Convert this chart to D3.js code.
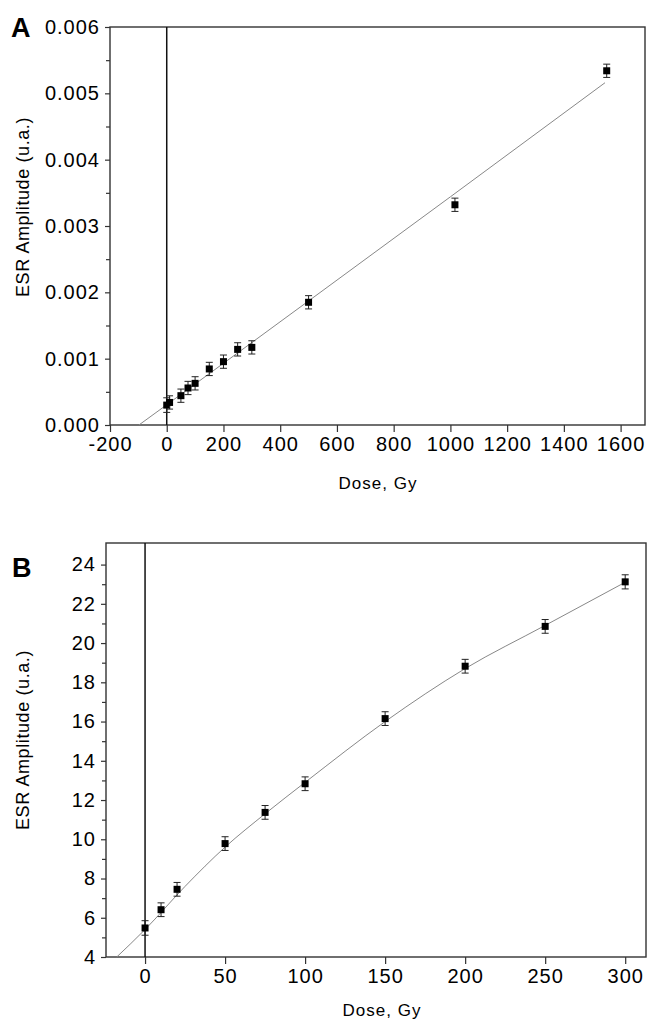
<!DOCTYPE html>
<html>
<head>
<meta charset="utf-8">
<script src="https://cdn.jsdelivr.net/npm/d3@7"></script>
<style>
  body { margin: 0; background: #fff; }
  svg text { font-family: "Liberation Sans", Arial, sans-serif; fill: #000; }
</style>
</head>
<body>
<svg id="chart" width="649" height="1021"></svg>
<script>
// ===== DATA =====
// Panel A
const doseA   = [0, 10, 50, 75, 100, 150, 200, 250, 300, 500, 1016, 1551];
const ampA    = [0.00030, 0.00034, 0.000442, 0.000558, 0.000628, 0.000845, 0.000955, 0.00114, 0.00117, 0.00185, 0.00332, 0.00534];
const errA    = [0.00011, 0.0001, 0.0001, 0.0001, 0.0001, 0.0001, 0.0001, 0.0001, 0.0001, 0.0001, 0.0001, 0.0001];
const fitDoseA = [-98, 0, 500, 1000, 1545];
const fitAmpA  = [0, 0.000305, 0.00187, 0.00344, 0.00516];
const xTicksA = [-200, 0, 200, 400, 600, 800, 1000, 1200, 1400, 1600];
const yTicksA = [0, 0.001, 0.002, 0.003, 0.004, 0.005, 0.006];

// Panel B
const doseB   = [0, 10, 20, 50, 75, 100, 150, 200, 250, 300];
const ampB    = [5.48, 6.41, 7.45, 9.78, 11.37, 12.83, 16.15, 18.82, 20.85, 23.12];
const errB    = [0.37, 0.35, 0.35, 0.35, 0.35, 0.35, 0.35, 0.35, 0.35, 0.36];
const fitDoseB = [-17.7, 0, 25, 50, 75, 100, 150, 200, 250, 300];
const fitAmpB  = [4.0, 5.4, 7.6, 9.6, 11.3, 12.9, 16.0, 18.7, 20.9, 23.1];
const xTicksB = [0, 50, 100, 150, 200, 250, 300];
const yTicksB = [4, 6, 8, 10, 12, 14, 16, 18, 20, 22, 24];

const svg = d3.select("#chart");

// plain hyphen instead of the unicode minus d3 uses
const intFmt = d => String(d);

// ===== DRAW ONE PANEL =====
function drawPanel(cfg) {
  const x = d3.scaleLinear().domain(cfg.xDomain).range([cfg.left, cfg.right]);
  const y = d3.scaleLinear().domain(cfg.yDomain).range([cfg.bottom, cfg.top]);
  const g = svg.append("g");

  // y minor ticks
  g.append("g")
    .attr("transform", `translate(${cfg.left},0)`)
    .call(d3.axisLeft(y).tickValues(cfg.yMinor).tickSize(4).tickFormat(""))
    .call(a => a.select(".domain").remove())
    .selectAll("line").attr("stroke", "#333").attr("stroke-width", 1.2);

  // y axis
  const ya = g.append("g")
    .attr("transform", `translate(${cfg.left},0)`)
    .call(d3.axisLeft(y).tickValues(cfg.yTicks).tickSize(5).tickPadding(5).tickFormat(cfg.yFormat));
  ya.select(".domain").remove();
  ya.selectAll("line").attr("stroke", "#333").attr("stroke-width", 1.2);
  ya.selectAll("text").attr("font-size", 20).style("letter-spacing", "1px").attr("fill", "#000");

  // x axis
  const xa = g.append("g")
    .attr("transform", `translate(0,${cfg.bottom})`)
    .call(d3.axisBottom(x).tickValues(cfg.xTicks).tickSize(7).tickPadding(5).tickFormat(intFmt));
  xa.select(".domain").remove();
  xa.selectAll("line").attr("stroke", "#333").attr("stroke-width", 1.2);
  xa.selectAll("text").attr("font-size", 20).style("letter-spacing", "1px").attr("fill", "#000");

  // frame
  g.append("rect")
    .attr("x", cfg.left).attr("y", cfg.top)
    .attr("width", cfg.right - cfg.left).attr("height", cfg.bottom - cfg.top)
    .attr("fill", "none").attr("stroke", "#333").attr("stroke-width", 1.4);

  // vertical line at zero dose
  g.append("line")
    .attr("x1", x(0)).attr("x2", x(0))
    .attr("y1", cfg.top).attr("y2", cfg.bottom)
    .attr("stroke", "#111").attr("stroke-width", 1.5);

  // fit line
  const fit = cfg.fitDose.map((d, i) => [d, cfg.fitAmp[i]]);
  g.append("path")
    .datum(fit)
    .attr("d", d3.line().x(d => x(d[0])).y(d => y(d[1])).curve(d3.curveMonotoneX))
    .attr("fill", "none").attr("stroke", "#888").attr("stroke-width", 1);

  // error bars + markers
  const pts = cfg.dose.map((d, i) => ({ d, v: cfg.amp[i], e: cfg.err[i] }));
  const eb = g.selectAll(".eb").data(pts).enter().append("g").attr("class", "eb");
  eb.append("line")
    .attr("x1", p => x(p.d)).attr("x2", p => x(p.d))
    .attr("y1", p => y(p.v - p.e)).attr("y2", p => y(p.v + p.e))
    .attr("stroke", "#222").attr("stroke-width", 1);
  [-1, 1].forEach(s => {
    eb.append("line")
      .attr("x1", p => x(p.d) - 3.5).attr("x2", p => x(p.d) + 3.5)
      .attr("y1", p => y(p.v + s * p.e)).attr("y2", p => y(p.v + s * p.e))
      .attr("stroke", "#222").attr("stroke-width", 1);
  });
  eb.append("rect")
    .attr("x", p => x(p.d) - 3.5).attr("y", p => y(p.v) - 3.5)
    .attr("width", 7).attr("height", 7)
    .attr("fill", "#000");

  // panel letter
  svg.append("text")
    .attr("x", cfg.letterX).attr("y", cfg.letterY)
    .attr("font-size", 27).attr("font-weight", "bold")
    .text(cfg.letter);

  // axis titles
  svg.append("text")
    .attr("transform", `translate(${cfg.yTitleX},${cfg.yTitleY}) rotate(-90)`)
    .attr("text-anchor", "middle")
    .attr("font-size", 18).style("letter-spacing", "0.6px")
    .text("ESR Amplitude (u.a.)");
  svg.append("text")
    .attr("x", cfg.xTitleX).attr("y", cfg.xTitleY)
    .attr("text-anchor", "middle")
    .attr("font-size", 17).style("letter-spacing", "1px")
    .text("Dose, Gy");
}

drawPanel({
  left: 110, right: 645, top: 27, bottom: 425,
  xDomain: [-200, 1686], yDomain: [0, 0.006],
  xTicks: xTicksA, yTicks: yTicksA,
  yMinor: d3.range(0.0005, 0.006, 0.001),
  yFormat: d3.format(".3f"),
  dose: doseA, amp: ampA, err: errA,
  fitDose: fitDoseA, fitAmp: fitAmpA,
  letter: "A", letterX: 11, letterY: 37,
  yTitleX: 29, yTitleY: 207,
  xTitleX: 378, xTitleY: 489
});

drawPanel({
  left: 106, right: 646, top: 543, bottom: 957,
  xDomain: [-24.4, 313], yDomain: [4, 25.1],
  xTicks: xTicksB, yTicks: yTicksB,
  yMinor: d3.range(5, 25, 2),
  yFormat: d3.format("d"),
  dose: doseB, amp: ampB, err: errB,
  fitDose: fitDoseB, fitAmp: fitAmpB,
  letter: "B", letterX: 12, letterY: 577,
  yTitleX: 29, yTitleY: 740,
  xTitleX: 382, xTitleY: 1016
});
</script>
</body>
</html>
